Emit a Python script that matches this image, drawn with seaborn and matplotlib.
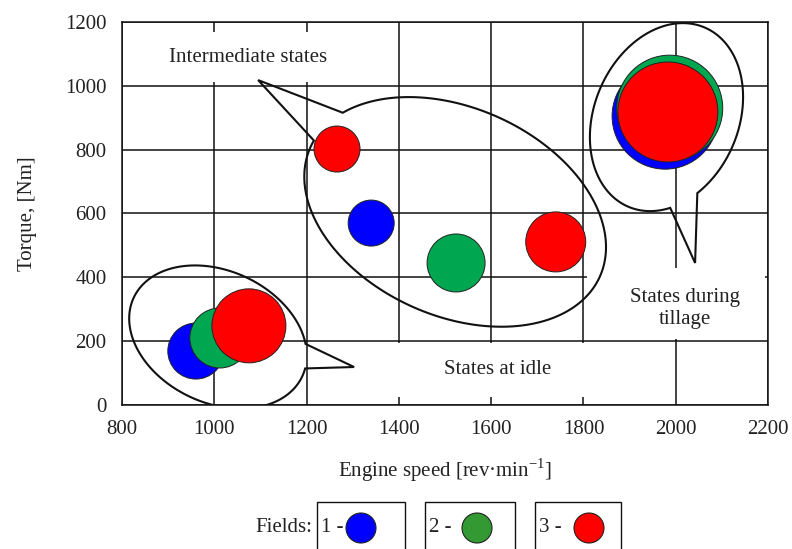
import numpy as np
import pandas as pd
import matplotlib
matplotlib.use("Agg")
import matplotlib.pyplot as plt
import seaborn as sns
from matplotlib.patches import Polygon, Rectangle, Circle

# operating states of the tractor engine, per field
field = [1, 1, 1, 2, 2, 2, 3, 3, 3, 3]
speed = [960, 1340, 1977, 1012, 1524, 1987, 1075, 1266, 1740, 1983]
torque = [169, 570, 905, 210, 445, 930, 248, 802, 511, 918]
bubble = [56, 46, 106, 60, 58, 106, 74, 46, 60, 100]

field_colors = {1: "#0000FF", 2: "#00A650", 3: "#FF0000"}
legend_colors = {1: "#0000FF", 2: "#339933", 3: "#FF0000"}

x_ticks = [800, 1000, 1200, 1400, 1600, 1800, 2000, 2200]
y_ticks = [0, 200, 400, 600, 800, 1000, 1200]

sns.set_theme(style="white")
plt.rcParams["font.family"] = ["Liberation Serif", "DejaVu Serif"]
plt.rcParams["mathtext.fontset"] = "custom"
plt.rcParams["mathtext.rm"] = "Liberation Serif"

W, H = 792, 549
fig = plt.figure(figsize=(W / 100, H / 100), dpi=100)
ax = fig.add_axes([122 / W, 144 / H, 646 / W, 383 / H])

df = pd.DataFrame({"speed": speed, "torque": torque, "field": field,
                   "area": [(d * 0.72) ** 2 for d in bubble]})
sns.scatterplot(data=df, x="speed", y="torque", hue="field", palette=field_colors,
                size="area", sizes=(df["area"].min(), df["area"].max()),
                edgecolor="#222222", linewidth=0.7, alpha=1, legend=False,
                zorder=3, ax=ax)

ax.set_xlim(800, 2200)
ax.set_ylim(0, 1200)
ax.set_xticks(x_ticks)
ax.set_yticks(y_ticks)
ax.set_axisbelow(True)
ax.grid(True, color="#111111", linewidth=1.1)
for s in ax.spines.values():
    s.set_color("#111111")
    s.set_linewidth(1.1)
ax.tick_params(direction="out", length=5, width=1, color="#111111",
               labelsize=15, labelcolor="#222222", pad=6)
ax.set_xlabel(r"Engine speed [rev·min$^{\mathrm{-1}}$]", fontsize=15, color="#222222", labelpad=12)
ax.set_ylabel("Torque, [Nm]", fontsize=15, color="#222222", labelpad=20)


def callout(ax, center, a, b, angle, base1, base2, tip):
    # speech-bubble outline: ellipse (a, b in pixels) with a pointer to tip
    bb = ax.get_window_extent()
    x0, x1 = ax.get_xlim()
    y0, y1 = ax.get_ylim()
    sx = (x1 - x0) / bb.width
    sy = (y1 - y0) / bb.height
    th = np.deg2rad(angle)

    def to_t(pt):
        dx = (pt[0] - center[0]) / sx
        dy = (pt[1] - center[1]) / sy
        xr = dx * np.cos(th) + dy * np.sin(th)
        yr = -dx * np.sin(th) + dy * np.cos(th)
        return np.arctan2(yr / b, xr / a)

    t1, t2 = to_t(base1), to_t(base2)
    d = (t2 - t1) % (2 * np.pi)
    if d < np.pi:
        ts = np.linspace(t2, t1 + 2 * np.pi, 300)
    else:
        ts = np.linspace(t1, t1 + d, 300)
    ex = a * np.cos(ts) * np.cos(th) - b * np.sin(ts) * np.sin(th)
    ey = a * np.cos(ts) * np.sin(th) + b * np.sin(ts) * np.cos(th)
    pts = np.column_stack([center[0] + ex * sx, center[1] + ey * sy])
    pts = np.vstack([pts, tip])
    ax.add_patch(Polygon(pts, closed=True, fill=False, edgecolor="#111111",
                         linewidth=1.5, zorder=4))


# white boxes behind the notes
for (bx0, by0, bx1, by1) in [(882, 1012, 1272, 1169), (1218, 25, 1836, 194),
                             (1807, 207, 2193, 430)]:
    ax.add_patch(Rectangle((bx0, by0), bx1 - bx0, by1 - by0, facecolor="white",
                           edgecolor="none", zorder=1))

callout(ax, (1008, 213), 93, 66, -25, (1201, 191), (1194, 116), (1303, 119))
callout(ax, (1522, 605), 158.5, 104, -24, (1279, 915), (1214, 830), (1095, 1018))
callout(ax, (1980, 902), 97.4, 72.2, 67, (1988, 620), (2046, 667), (2042, 445))

ax.text(1073, 1090, "Intermediate states", ha="center", va="center", fontsize=15,
        color="#222222", zorder=5)
ax.text(1613, 110, "States at idle", ha="center", va="center", fontsize=15,
        color="#222222", zorder=5)
ax.text(2020, 302, "States during\ntillage", ha="center", va="center", fontsize=15,
        color="#222222", linespacing=1.25, zorder=5)

# legend strip at the bottom, in pixel units
lax = fig.add_axes([0, 0, 1, 1], facecolor="none")
lax.set_xlim(0, W)
lax.set_ylim(H, 0)
lax.axis("off")
lax.text(312, 527, "Fields:", ha="right", va="center", fontsize=15, color="#222222")
for i, (bx0, bx1) in enumerate([(317, 405), (425, 515), (535, 621)]):
    f = i + 1
    lax.add_patch(Rectangle((bx0, 502), bx1 - bx0, 60, facecolor="white",
                            edgecolor="#111111", linewidth=1.0))
    lax.text(bx0 + 4, 527, f"{f} -", ha="left", va="center", fontsize=15, color="#222222")
    cx = [361, 477, 589][i]
    lax.add_patch(Circle((cx, 528), 15, facecolor=legend_colors[f],
                         edgecolor="#222222", linewidth=0.8))

fig.savefig("out.png", dpi=100)
